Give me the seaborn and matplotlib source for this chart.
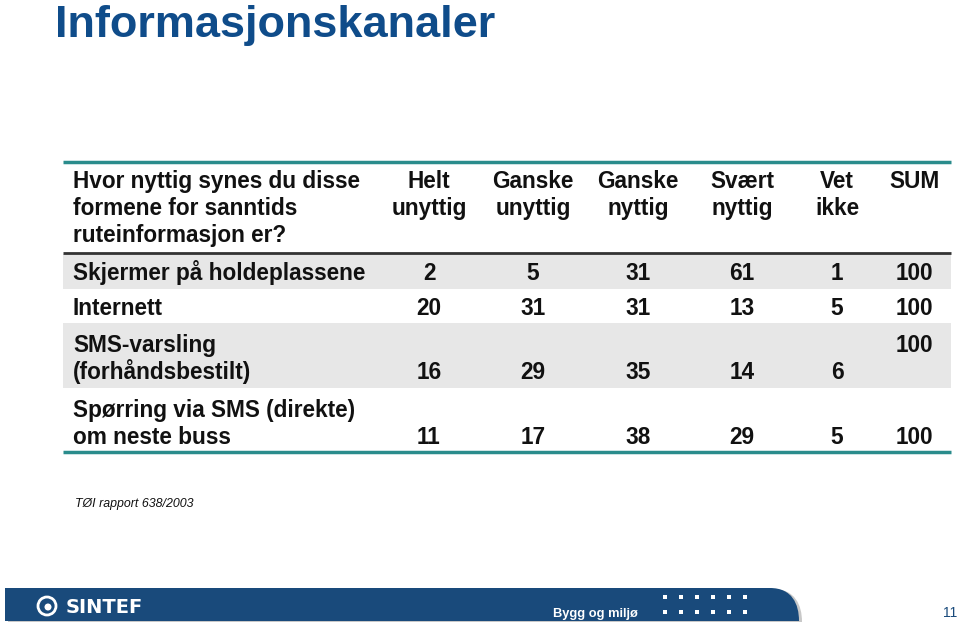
import numpy as np
import pandas as pd
import matplotlib.pyplot as plt
import seaborn as sns
from matplotlib.colors import ListedColormap
from matplotlib.path import Path
from matplotlib.patches import PathPatch, Circle

## Table data
title = "Informasjonskanaler"
question = ["Hvor nyttig synes du disse", "formene for sanntids", "ruteinformasjon er?"]
categories = [["Skjermer på holdeplassene"],
              ["Internett"],
              ["SMS-varsling", "(forhåndsbestilt)"],
              ["Spørring via SMS (direkte)", "om neste buss"]]
col_labels = [["Helt", "unyttig"], ["Ganske", "unyttig"], ["Ganske", "nyttig"],
              ["Svært", "nyttig"], ["Vet", "ikke"], ["SUM"]]
helt_unyttig = [2, 20, 16, 11]
ganske_unyttig = [5, 31, 29, 17]
ganske_nyttig = [31, 31, 35, 38]
svaert_nyttig = [61, 13, 14, 29]
vet_ikke = [1, 5, 6, 5]
total = [100, 100, 100, 100]
source = "TØI rapport 638/2003"

df = pd.DataFrame({"Helt unyttig": helt_unyttig, "Ganske unyttig": ganske_unyttig,
                   "Ganske nyttig": ganske_nyttig, "Svært nyttig": svaert_nyttig,
                   "Vet ikke": vet_ikke, "SUM": total})

# layout (pixels)
W, H = 960, 626
tab_left, tab_right = 63, 951
tab_top, tab_bottom = 254, 452
col_x = [429, 533, 638, 742, 837, 914]
label_x = 73
line_gap = 27
row_units = [7, 7, 13, 13]
sum_on_top = [False, False, True, False]   # SMS-varsling row has SUM on its first line

sns.set_theme(style="white")
plt.rcParams['font.family'] = ['Liberation Sans', 'DejaVu Sans']

fig = plt.figure(figsize=(W / 100, H / 100), dpi=100)

# row shading drawn as a heatmap behind the table body
hax = fig.add_axes([tab_left / W, 1 - tab_bottom / H,
                    (tab_right - tab_left) / W, (tab_bottom - tab_top) / H])
shade = np.repeat([1, 0, 1, 0], row_units)[:, None]
sns.heatmap(shade, ax=hax, cmap=ListedColormap(['white', '#e7e7e7']), vmin=0, vmax=1,
            cbar=False, xticklabels=False, yticklabels=False)
hax.axis('off')

# overlay in pixel coordinates
ax = fig.add_axes([0, 0, 1, 1])
ax.set_xlim(0, W)
ax.set_ylim(H, 0)
ax.axis('off')

ax.text(55, 37, title, fontsize=32.5, fontweight='bold', color='#0f4c8a', va='baseline')

txt = dict(fontsize=16.3, fontweight='bold', color='#111111', va='baseline')

# rules
ax.plot([tab_left, tab_right], [162, 162], color='#2a8c8c', lw=2.5, solid_capstyle='butt')
ax.plot([tab_left, tab_right], [253, 253], color='#333333', lw=2, solid_capstyle='butt')
ax.plot([tab_left, tab_right], [452, 452], color='#2a8c8c', lw=2.5, solid_capstyle='butt')

# header
for k, line in enumerate(question):
    ax.text(label_x, 188 + k * line_gap, line, ha='left', **txt)
for j, lines in enumerate(col_labels):
    for k, line in enumerate(lines):
        ax.text(col_x[j], 188 + k * line_gap, line, ha='center', **txt)

# body
unit = (tab_bottom - tab_top) / sum(row_units)
top = tab_top
for i, lines in enumerate(categories):
    h = row_units[i] * unit
    first = top + h / 2 - (len(lines) - 1) * line_gap / 2 + 9
    if len(lines) > 1:
        first += 1.5
    for k, line in enumerate(lines):
        ax.text(label_x, first + k * line_gap, line, ha='left', **txt)
    last = first + (len(lines) - 1) * line_gap
    for j, col in enumerate(df.columns):
        y = first if (col == "SUM" and sum_on_top[i]) else last
        ax.text(col_x[j], y, str(df[col].iloc[i]), ha='center', **txt)
    top += h

ax.text(75, 507, source, fontsize=8.9, fontstyle='italic', color='#111111', va='baseline')

# footer band
band = [(5, 588), (770, 588), (792, 588), (799, 604), (799, 621), (5, 621), (5, 588)]
codes = [Path.MOVETO, Path.LINETO, Path.CURVE4, Path.CURVE4, Path.CURVE4,
         Path.LINETO, Path.CLOSEPOLY]
shadow = [(x + 3, y + 1) for x, y in band]
ax.add_patch(PathPatch(Path(shadow, codes), facecolor='#c8c8c8', edgecolor='none'))
ax.add_patch(PathPatch(Path(band, codes), facecolor='#194a7b', edgecolor='none'))

ax.add_patch(Circle((47, 606), 9, facecolor='none', edgecolor='white', lw=2))
ax.add_patch(Circle((48, 607), 3.5, facecolor='white', edgecolor='none'))
ax.text(66, 613, "SINTEF", fontsize=14, fontweight='bold', color='white',
        family='DejaVu Sans', va='baseline')
ax.text(553, 617, "Bygg og miljø", fontsize=9.3, fontweight='bold', color='white',
        va='baseline')
dot_x = [665, 681, 697, 713, 729, 745]
for yy in (597, 612):
    ax.scatter(dot_x, [yy] * len(dot_x), marker='s', s=5, color='white', linewidths=0)
ax.text(950, 613, "11", fontsize=10, color='#194a7b', ha='center', va='center')

fig.savefig('out.png', dpi=100)
